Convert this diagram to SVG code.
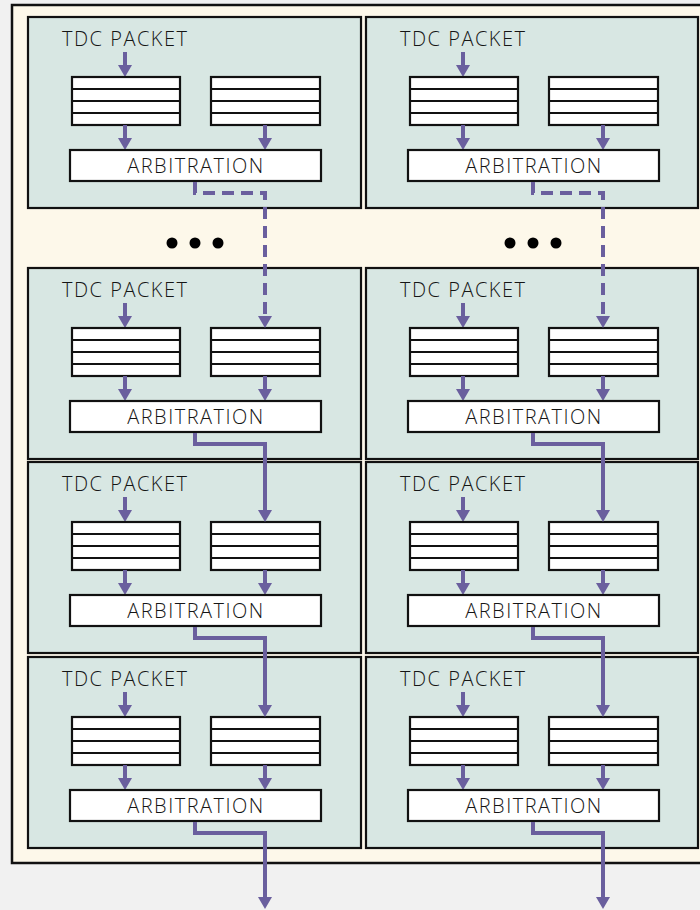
<svg xmlns="http://www.w3.org/2000/svg" width="700" height="910" viewBox="0 0 700 910">
  <style>
    .frame { fill: #fdf8ea; stroke: #111; stroke-width: 2.5; }
    .cell { fill: #d8e7e3; stroke: #111; stroke-width: 2.2; }
    .box { fill: #fff; stroke: #111; stroke-width: 2.2; }
    .slot { stroke: #111; stroke-width: 2.2; }
    .lbl { font-family: "Open Sans", "Liberation Sans", Arial, sans-serif; font-weight: 300; font-size: 20px; letter-spacing: 1.5px; fill: #151515; }
    .mid { text-anchor: middle; }
    .flow { fill: none; stroke: #6a5f9e; stroke-width: 4; marker-end: url(#ah); }
    .dash { stroke-dasharray: 12 7; }
    .dot { fill: #000; }
  </style>
  <defs>
    <marker id="ah" viewBox="0 0 12 14" refX="0" refY="7" markerWidth="12" markerHeight="14" markerUnits="userSpaceOnUse" orient="auto">
      <path d="M0,0 L12,7 L0,14 Z" fill="#6a5f9e"/>
    </marker>
  </defs>

  <rect width="700" height="910" fill="#f1f1f1"/>
  <rect class="frame" x="12" y="5" width="700" height="858"/>

  <!-- ellipsis between the first and second rows -->
  <g id="gap-left">
    <circle class="dot" cx="172" cy="243" r="5.5"/>
    <circle class="dot" cx="195" cy="243" r="5.5"/>
    <circle class="dot" cx="218" cy="243" r="5.5"/>
  </g>
  <g id="gap-right">
    <circle class="dot" cx="510" cy="243" r="5.5"/>
    <circle class="dot" cx="533" cy="243" r="5.5"/>
    <circle class="dot" cx="556" cy="243" r="5.5"/>
  </g>

  <!-- ===== left column ===== -->
  <g id="node-l1" transform="translate(28,17)">
    <rect class="cell" width="333" height="191"/>
    <text class="lbl" x="34" y="29">TDC PACKET</text>
    <line class="flow" x1="97" y1="35" x2="97" y2="48"/>
    <rect class="box" x="44" y="60" width="108" height="48"/>
    <path class="slot" d="M44,72H152M44,84H152M44,96H152"/>
    <rect class="box" x="183" y="60" width="109" height="48"/>
    <path class="slot" d="M183,72H292M183,84H292M183,96H292"/>
    <line class="flow" x1="97" y1="108" x2="97" y2="121"/>
    <line class="flow" x1="237" y1="108" x2="237" y2="121"/>
    <rect class="box" x="42" y="133" width="251" height="31"/>
    <text class="lbl mid" x="168" y="156">ARBITRATION</text>
  </g>
  <g id="node-l2" transform="translate(28,268)">
    <rect class="cell" width="333" height="191"/>
    <text class="lbl" x="34" y="29">TDC PACKET</text>
    <line class="flow" x1="97" y1="35" x2="97" y2="48"/>
    <rect class="box" x="44" y="60" width="108" height="48"/>
    <path class="slot" d="M44,72H152M44,84H152M44,96H152"/>
    <rect class="box" x="183" y="60" width="109" height="48"/>
    <path class="slot" d="M183,72H292M183,84H292M183,96H292"/>
    <line class="flow" x1="97" y1="108" x2="97" y2="121"/>
    <line class="flow" x1="237" y1="108" x2="237" y2="121"/>
    <rect class="box" x="42" y="133" width="251" height="31"/>
    <text class="lbl mid" x="168" y="156">ARBITRATION</text>
  </g>
  <g id="node-l3" transform="translate(28,462)">
    <rect class="cell" width="333" height="191"/>
    <text class="lbl" x="34" y="29">TDC PACKET</text>
    <line class="flow" x1="97" y1="35" x2="97" y2="48"/>
    <rect class="box" x="44" y="60" width="108" height="48"/>
    <path class="slot" d="M44,72H152M44,84H152M44,96H152"/>
    <rect class="box" x="183" y="60" width="109" height="48"/>
    <path class="slot" d="M183,72H292M183,84H292M183,96H292"/>
    <line class="flow" x1="97" y1="108" x2="97" y2="121"/>
    <line class="flow" x1="237" y1="108" x2="237" y2="121"/>
    <rect class="box" x="42" y="133" width="251" height="31"/>
    <text class="lbl mid" x="168" y="156">ARBITRATION</text>
  </g>
  <g id="node-l4" transform="translate(28,657)">
    <rect class="cell" width="333" height="191"/>
    <text class="lbl" x="34" y="29">TDC PACKET</text>
    <line class="flow" x1="97" y1="35" x2="97" y2="48"/>
    <rect class="box" x="44" y="60" width="108" height="48"/>
    <path class="slot" d="M44,72H152M44,84H152M44,96H152"/>
    <rect class="box" x="183" y="60" width="109" height="48"/>
    <path class="slot" d="M183,72H292M183,84H292M183,96H292"/>
    <line class="flow" x1="97" y1="108" x2="97" y2="121"/>
    <line class="flow" x1="237" y1="108" x2="237" y2="121"/>
    <rect class="box" x="42" y="133" width="251" height="31"/>
    <text class="lbl mid" x="168" y="156">ARBITRATION</text>
  </g>

  <!-- ===== right column ===== -->
  <g id="node-r1" transform="translate(366,17)">
    <rect class="cell" width="332" height="191"/>
    <text class="lbl" x="34" y="29">TDC PACKET</text>
    <line class="flow" x1="97" y1="35" x2="97" y2="48"/>
    <rect class="box" x="44" y="60" width="108" height="48"/>
    <path class="slot" d="M44,72H152M44,84H152M44,96H152"/>
    <rect class="box" x="183" y="60" width="109" height="48"/>
    <path class="slot" d="M183,72H292M183,84H292M183,96H292"/>
    <line class="flow" x1="97" y1="108" x2="97" y2="121"/>
    <line class="flow" x1="237" y1="108" x2="237" y2="121"/>
    <rect class="box" x="42" y="133" width="251" height="31"/>
    <text class="lbl mid" x="168" y="156">ARBITRATION</text>
  </g>
  <g id="node-r2" transform="translate(366,268)">
    <rect class="cell" width="332" height="191"/>
    <text class="lbl" x="34" y="29">TDC PACKET</text>
    <line class="flow" x1="97" y1="35" x2="97" y2="48"/>
    <rect class="box" x="44" y="60" width="108" height="48"/>
    <path class="slot" d="M44,72H152M44,84H152M44,96H152"/>
    <rect class="box" x="183" y="60" width="109" height="48"/>
    <path class="slot" d="M183,72H292M183,84H292M183,96H292"/>
    <line class="flow" x1="97" y1="108" x2="97" y2="121"/>
    <line class="flow" x1="237" y1="108" x2="237" y2="121"/>
    <rect class="box" x="42" y="133" width="251" height="31"/>
    <text class="lbl mid" x="168" y="156">ARBITRATION</text>
  </g>
  <g id="node-r3" transform="translate(366,462)">
    <rect class="cell" width="332" height="191"/>
    <text class="lbl" x="34" y="29">TDC PACKET</text>
    <line class="flow" x1="97" y1="35" x2="97" y2="48"/>
    <rect class="box" x="44" y="60" width="108" height="48"/>
    <path class="slot" d="M44,72H152M44,84H152M44,96H152"/>
    <rect class="box" x="183" y="60" width="109" height="48"/>
    <path class="slot" d="M183,72H292M183,84H292M183,96H292"/>
    <line class="flow" x1="97" y1="108" x2="97" y2="121"/>
    <line class="flow" x1="237" y1="108" x2="237" y2="121"/>
    <rect class="box" x="42" y="133" width="251" height="31"/>
    <text class="lbl mid" x="168" y="156">ARBITRATION</text>
  </g>
  <g id="node-r4" transform="translate(366,657)">
    <rect class="cell" width="332" height="191"/>
    <text class="lbl" x="34" y="29">TDC PACKET</text>
    <line class="flow" x1="97" y1="35" x2="97" y2="48"/>
    <rect class="box" x="44" y="60" width="108" height="48"/>
    <path class="slot" d="M44,72H152M44,84H152M44,96H152"/>
    <rect class="box" x="183" y="60" width="109" height="48"/>
    <path class="slot" d="M183,72H292M183,84H292M183,96H292"/>
    <line class="flow" x1="97" y1="108" x2="97" y2="121"/>
    <line class="flow" x1="237" y1="108" x2="237" y2="121"/>
    <rect class="box" x="42" y="133" width="251" height="31"/>
    <text class="lbl mid" x="168" y="156">ARBITRATION</text>
  </g>

  <!-- chain connectors between arbitration stages -->
  <g id="connectors">
    <path class="flow dash" d="M195,182V193H265V316"/>
    <path class="flow" d="M195,433V444H265V510"/>
    <path class="flow" d="M195,627V638H265V705"/>
    <path class="flow" d="M195,822V833H265V897"/>
    <path class="flow dash" d="M533,182V193H603V316"/>
    <path class="flow" d="M533,433V444H603V510"/>
    <path class="flow" d="M533,627V638H603V705"/>
    <path class="flow" d="M533,822V833H603V897"/>
  </g>
</svg>
